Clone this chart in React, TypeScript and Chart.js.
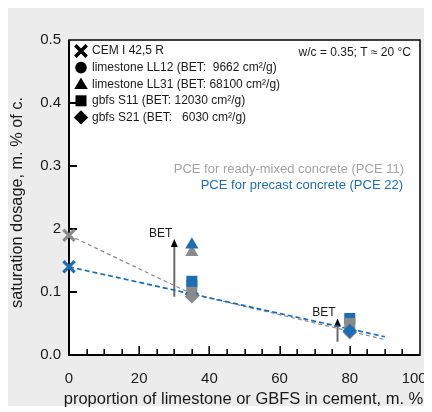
import React, { useEffect, useRef } from 'react';
import { Chart, registerables } from 'chart.js';
import { drawPoint } from 'chart.js/helpers';

Chart.register(...registerables);

// ---- data ----
const yTickLabels = ['0.0', '0.1', '2', '0.3', '0.4', '0.5'];
const xMajorStep = 20;
const xTitle = 'proportion of limestone or GBFS in cement, m. %';
const yTitle = 'saturation dosage, m. % of c.';

const cemX = [0];
const cemPce11 = [0.19];
const cemPce22 = [0.14];

const limestoneX = [35];
const ll12Pce11 = [0.103];
const ll12Pce22 = [0.1];
const ll31Pce11 = [0.163];
const ll31Pce22 = [0.175];

const gbfsX = [35, 80];
const s11Pce11 = [0.11, 0.05];
const s11Pce22 = [0.117, 0.058];
const s21Pce11 = [0.093, 0.036];
const s21Pce22 = [0.097, 0.038];

const fit11X = [0, 35, 90];
const fit11Y = [0.19, 0.097, 0.0245];
const fit22X = [0, 90];
const fit22Y = [0.14, 0.029];

const arrowX = [30, 76.5];
const arrowFrom = [0.0925, 0.021];
const arrowTo = [0.184, 0.058];
const arrowLabel = 'BET';

const legendLabels = [
  'CEM I 42,5 R',
  'limestone LL12 (BET:  9662 cm²/g)',
  'limestone LL31 (BET: 68100 cm²/g)',
  'gbfs S11 (BET: 12030 cm²/g)',
  'gbfs S21 (BET:   6030 cm²/g)',
];
const legendStyles = ['crossRot', 'circle', 'triangle', 'rect', 'rectRot'];
const conditionText = 'w/c = 0.35; T ≈ 20 °C';
const pce11Text = 'PCE for ready-mixed concrete (PCE 11)';
const pce22Text = 'PCE for precast concrete (PCE 22)';

// ---- styles ----
const FONT = "'Liberation Sans', Arial, Helvetica, sans-serif";
const GREY = '#8a8a8a';
const GREY_TEXT = '#a3a3a3';
const BLUE = '#1c6db4';
const PANEL = '#ebeceb';
const INK = '#1a1a1a';
const PANEL_W = 417;
const PANEL_H = 398;

const radiusFor: Record<string, number> = {
  crossRot: 8,
  circle: 5.2,
  triangle: 7.6,
  rect: 7.8,
  rectRot: 7.2,
};

function pts(xs: number[], ys: number[]) {
  return xs.map((x, i) => ({ x, y: ys[i] }));
}

function marker(xs: number[], ys: number[], idx: number, style: string, color: string, order: number) {
  return {
    data: [{ x: xs[idx], y: ys[idx] }],
    pointStyle: style,
    pointRadius: radiusFor[style],
    pointHoverRadius: radiusFor[style],
    backgroundColor: color,
    borderColor: color,
    pointBorderWidth: style === 'crossRot' ? 3.2 : 0,
    borderWidth: style === 'crossRot' ? 3.2 : 0,
    showLine: false,
    clip: false,
    order,
  };
}

const decorPlugin = {
  id: 'decor',
  beforeDraw(chart: any) {
    const { ctx, chartArea: a } = chart;
    ctx.save();
    ctx.fillStyle = PANEL;
    ctx.fillRect(0, 0, PANEL_W, PANEL_H);
    ctx.fillStyle = '#ffffff';
    ctx.fillRect(a.left, a.top, a.right - a.left, a.bottom - a.top);
    ctx.restore();
  },
  beforeDatasetsDraw(chart: any) {
    const { ctx, chartArea: a } = chart;
    const xs = chart.scales.x;
    const ys = chart.scales.y;
    ctx.save();
    // frame
    ctx.strokeStyle = '#000';
    ctx.lineWidth = 1.5;
    ctx.strokeRect(a.left, a.top, a.right - a.left, a.bottom - a.top);
    ctx.lineWidth = 2;
    ctx.beginPath();
    ctx.moveTo(a.left, a.top);
    ctx.lineTo(a.left, a.bottom);
    ctx.lineTo(a.right, a.bottom);
    ctx.stroke();
    // inward ticks
    ctx.lineWidth = 2;
    ys.ticks.forEach((t: any) => {
      if (t.value <= 0.0001 || t.value >= 0.4999) return;
      const y = Math.round(ys.getPixelForValue(t.value));
      ctx.beginPath();
      ctx.moveTo(a.left, y);
      ctx.lineTo(a.left + 8, y);
      ctx.stroke();
    });
    ctx.lineWidth = 1.6;
    xs.ticks.forEach((t: any) => {
      if (t.value <= 0 || t.value >= 100) return;
      const x = Math.round(xs.getPixelForValue(t.value)) + 0.2;
      const len = t.value % xMajorStep === 0 ? 9 : 6;
      ctx.beginPath();
      ctx.moveTo(x, a.bottom);
      ctx.lineTo(x, a.bottom - len);
      ctx.stroke();
    });
    // arrows
    arrowX.forEach((v, i) => {
      const x = xs.getPixelForValue(v);
      const y1 = ys.getPixelForValue(arrowFrom[i]);
      const y2 = ys.getPixelForValue(arrowTo[i]);
      ctx.strokeStyle = '#6b6b6b';
      ctx.lineWidth = 2;
      ctx.beginPath();
      ctx.moveTo(x, y1);
      ctx.lineTo(x, y2 + 6);
      ctx.stroke();
      ctx.fillStyle = '#000';
      ctx.beginPath();
      ctx.moveTo(x, y2);
      ctx.lineTo(x - 3.5, y2 + 8);
      ctx.lineTo(x + 3.5, y2 + 8);
      ctx.closePath();
      ctx.fill();
      ctx.fillStyle = INK;
      ctx.font = `12px ${FONT}`;
      ctx.textAlign = 'right';
      ctx.textBaseline = 'alphabetic';
      ctx.fillText(arrowLabel, x - 2, y2 - 2);
    });
    ctx.restore();
  },
  afterDraw(chart: any) {
    const { ctx, chartArea: a } = chart;
    ctx.save();
    // legend
    ctx.font = `12px ${FONT}`;
    ctx.textBaseline = 'middle';
    ctx.textAlign = 'left';
    legendLabels.forEach((lab, i) => {
      const y = a.top + 11 + i * 16.6;
      const style = legendStyles[i];
      ctx.fillStyle = '#000';
      ctx.strokeStyle = '#000';
      ctx.lineWidth = 3.6;
      const r = style === 'crossRot' ? 8 : style === 'circle' ? 5.8 : style === 'triangle' ? 7.8 : style === 'rect' ? 7.8 : 7.2;
      drawPoint(ctx, { pointStyle: style, radius: r, rotation: 0, borderWidth: style === 'crossRot' ? 3.6 : 0 } as any, a.left + 12, y + (style === 'triangle' ? 1 : 0));
      ctx.fillStyle = INK;
      ctx.fillText(lab, a.left + 23, y);
    });
    // annotations
    ctx.textAlign = 'right';
    ctx.fillStyle = INK;
    ctx.font = `12px ${FONT}`;
    ctx.fillText(conditionText, a.right - 9, a.top + 13);
    ctx.font = `13px ${FONT}`;
    ctx.fillStyle = GREY_TEXT;
    ctx.fillText(pce11Text, a.right - 16, a.top + 129);
    ctx.fillStyle = BLUE;
    ctx.fillText(pce22Text, a.right - 17, a.top + 145);
    // axis titles
    ctx.fillStyle = INK;
    ctx.font = `16.5px ${FONT}`;
    ctx.textAlign = 'center';
    ctx.textBaseline = 'middle';
    ctx.fillText(xTitle, (a.left + a.right) / 2 - 1, a.bottom + 44);
    ctx.font = `16.3px ${FONT}`;
    ctx.translate(10, (a.top + a.bottom) / 2 + 5);
    ctx.rotate(-Math.PI / 2);
    ctx.fillText(yTitle, 0, 0);
    ctx.restore();
  },
};

export default function App() {
  const ref = useRef<HTMLCanvasElement | null>(null);
  useEffect(() => {
    if (!ref.current) return;
    const datasets: any[] = [
      {
        data: pts(fit11X, fit11Y),
        showLine: true,
        borderColor: GREY,
        borderWidth: 1.2,
        borderDash: [4, 3],
        pointRadius: 0,
        clip: false,
        order: 100,
      },
      {
        data: pts(fit22X, fit22Y),
        showLine: true,
        borderColor: BLUE,
        borderWidth: 1.7,
        borderDash: [5, 3],
        pointRadius: 0,
        clip: false,
        order: 99,
      },
      marker(cemX, cemPce11, 0, 'crossRot', GREY, 50),
      marker(cemX, cemPce22, 0, 'crossRot', BLUE, 49),
      marker(limestoneX, ll31Pce11, 0, 'triangle', GREY, 40),
      marker(limestoneX, ll31Pce22, 0, 'triangle', BLUE, 39),
      marker(gbfsX, s11Pce11, 0, 'rect', GREY, 38),
      marker(limestoneX, ll12Pce22, 0, 'circle', BLUE, 37),
      marker(gbfsX, s21Pce22, 0, 'rectRot', BLUE, 36),
      marker(limestoneX, ll12Pce11, 0, 'circle', GREY, 35),
      marker(gbfsX, s21Pce11, 0, 'rectRot', GREY, 34),
      marker(gbfsX, s11Pce22, 0, 'rect', BLUE, 33),
      marker(gbfsX, s11Pce22, 1, 'rect', BLUE, 30),
      marker(gbfsX, s11Pce11, 1, 'rect', GREY, 29),
      marker(gbfsX, s21Pce11, 1, 'rectRot', GREY, 28),
      marker(gbfsX, s21Pce22, 1, 'rectRot', BLUE, 27),
    ];
    const chart = new Chart(ref.current, {
      type: 'scatter',
      data: { datasets },
      options: {
        responsive: false,
        animation: false,
        events: [],
        layout: { padding: { left: 0, top: 32, right: 12, bottom: 0 } },
        plugins: { legend: { display: false }, tooltip: { enabled: false } },
        scales: {
          x: {
            type: 'linear',
            min: 0,
            max: 100,
            grid: { display: false, drawTicks: false },
            border: { display: false },
            ticks: {
              stepSize: 5,
              autoSkip: false,
              maxRotation: 0,
              padding: 15,
              color: INK,
              font: { family: FONT, size: 15 },
              callback: (v: any) => {
                const n = Number(v);
                if (n % xMajorStep !== 0) return '';
                return n === 100 ? String(n) + '\u2002 ' : String(n);
              },
            },
            afterFit: (s: any) => {
              s.height = 57;
              s.paddingLeft = 0;
              s.paddingRight = 0;
            },
          },
          y: {
            type: 'linear',
            min: 0,
            max: 0.5,
            grid: { display: false, drawTicks: false },
            border: { display: false },
            ticks: {
              stepSize: 0.1,
              padding: 8,
              color: INK,
              font: { family: FONT, size: 15 },
              callback: (_v: any, i: number) => yTickLabels[i],
            },
            afterFit: (s: any) => {
              s.width = 61;
              s.paddingTop = 0;
              s.paddingBottom = 0;
            },
          },
        },
      } as any,
      plugins: [decorPlugin],
    });
    return () => chart.destroy();
  }, []);
  return <canvas ref={ref} width={424} height={404} style={{ display: 'block' }} />;
}
